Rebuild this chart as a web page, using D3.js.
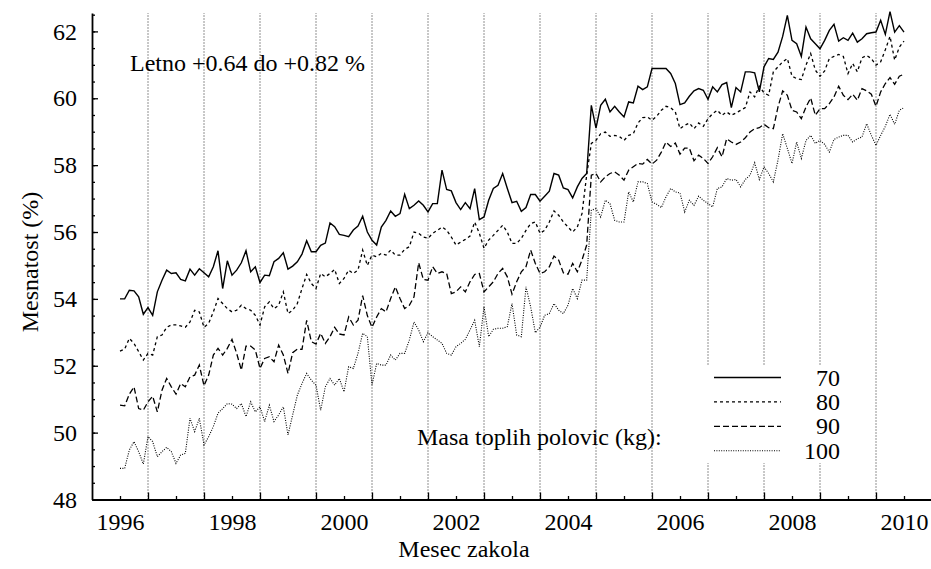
<!DOCTYPE html>
<html lang="sl">
<head>
  <meta charset="UTF-8">
  <title>Mesnatost</title>
  <style>
    body { margin: 0; background: #ffffff }
    #thesvg { width: 931px; height: 569px; display: block }
    text { font-family: "Liberation Serif", "DejaVu Serif", serif; fill: #000 }
  </style>
</head>
<body>
  <script src="https://cdnjs.cloudflare.com/ajax/libs/d3/7.8.5/d3.min.js"></script>
  <svg id="thesvg"></svg>
  <script>

    // monthly values, jan 1996 .. jan 2010
    var startYear = 1996;

    var s70 = [
      54.0, 54.0, 54.26, 54.24, 54.06, 53.54, 53.74, 53.51, 54.21, 54.56,
      54.86, 54.76, 54.78, 54.58, 54.54, 54.89, 54.71, 54.9, 54.78, 54.66,
      54.96, 55.44, 54.31, 55.14, 54.71, 54.86, 55.08, 55.44, 54.81, 54.96,
      54.49, 54.71, 54.69, 55.11, 55.21, 55.38, 54.89, 54.98, 55.11, 55.34,
      55.74, 55.41, 55.41, 55.6, 55.67, 56.27, 56.16, 55.93, 55.9, 55.86,
      56.06, 56.18, 56.47, 56.0, 55.75, 55.61, 56.15, 56.35, 56.63, 56.47,
      56.55, 57.13, 56.70, 56.80, 56.93, 56.80, 56.60, 56.85, 56.85, 57.85,
      57.27, 57.23, 56.88, 56.67, 56.88, 56.70, 57.30, 56.37, 56.45, 56.95,
      57.30, 57.40, 57.75, 57.30, 56.88, 56.92, 56.62, 56.73, 57.12, 57.12,
      56.92, 57.07, 57.22, 57.75, 57.70, 57.32, 57.27, 57.02, 57.35, 57.60,
      57.75, 59.79, 59.11, 59.79, 59.97, 59.59, 59.76, 59.59, 59.44, 59.89,
      59.86, 60.36, 60.26, 60.34, 60.89, 60.89, 60.89, 60.89, 60.74, 60.44,
      59.81, 59.86, 60.06, 60.22, 60.29, 60.24, 59.97, 60.34, 60.19, 60.41,
      60.47, 59.72, 60.32, 60.19, 60.79, 60.79, 60.76, 60.19, 60.94, 61.19,
      61.16, 61.38, 61.85, 62.48, 61.73, 61.63, 61.25, 62.13, 61.78, 61.63,
      61.48, 61.73, 62.03, 62.21, 61.71, 61.81, 61.73, 61.95, 61.68, 61.78,
      61.93, 61.96, 61.98, 62.33, 61.91, 62.59, 61.98, 62.17, 61.98
    ];

    var s80 = [
      52.44, 52.5, 52.82, 52.67, 52.42, 52.17, 52.37, 52.32, 52.87, 52.92,
      53.15, 53.22, 53.22, 53.19, 53.15, 53.31, 53.66, 53.61, 53.15, 53.27,
      53.61, 54.01, 53.86, 53.71, 53.61, 53.66, 53.81, 53.71, 53.66, 53.51,
      53.22, 53.76, 53.91, 53.71, 53.81, 54.21, 53.56, 53.66, 53.86, 54.31,
      54.73, 54.46, 54.31, 54.76, 54.66, 54.76, 54.88, 54.46, 54.61, 54.86,
      54.76, 54.86, 55.46, 55.0, 55.31, 55.26, 55.36, 55.31, 55.46, 55.31,
      55.31, 55.48, 55.56, 56.0, 55.96, 55.85, 55.81, 55.96, 56.05, 56.15,
      56.05, 55.85, 55.61, 55.70, 55.78, 55.88, 56.30, 55.96, 55.51, 55.76,
      55.90, 56.05, 56.20, 56.0, 55.66, 55.66, 55.81, 56.05, 56.25, 56.30,
      55.96, 56.05, 56.30, 56.63, 56.50, 56.30, 56.15, 56.0, 56.15, 56.55,
      57.70, 58.65, 58.74, 58.94, 58.99, 58.86, 58.89, 58.86, 58.74, 58.89,
      58.94, 59.26, 59.42, 59.44, 59.34, 59.46, 59.64, 59.76, 59.72, 59.59,
      59.09, 59.19, 59.26, 59.09, 59.26, 59.16, 59.39, 59.54, 59.64, 59.49,
      59.59, 59.49, 59.56, 59.64, 59.72, 60.19, 60.04, 60.36, 60.16, 60.09,
      60.79, 60.94, 61.09, 61.19, 60.66, 60.59, 60.56, 60.99, 61.34, 60.84,
      60.66, 60.82, 61.19, 61.25, 61.31, 61.25, 60.74, 61.04, 60.79, 61.21,
      61.28, 61.19, 60.99, 61.09, 61.45, 61.85, 61.14, 61.53, 61.71
    ];

    var s90 = [
      50.82, 50.80, 51.15, 51.37, 50.72, 50.67, 50.92, 51.09, 50.62, 51.27,
      51.62, 51.37, 51.15, 51.47, 51.37, 51.67, 51.72, 52.02, 51.40, 51.72,
      52.32, 52.52, 52.32, 52.52, 52.79, 52.37, 51.87, 52.59, 52.59, 52.47,
      51.92, 52.22, 52.27, 52.12, 52.62, 52.32, 51.77, 52.39, 52.50, 52.49,
      53.36, 52.72, 52.65, 52.97, 52.67, 52.87, 53.15, 52.95, 52.92, 53.46,
      53.22, 53.36, 54.1, 53.5, 53.15, 53.46, 53.71, 53.61, 54.01, 54.36,
      54.01, 53.71, 53.81, 54.06, 55.08, 54.58, 54.56, 54.96, 54.76, 54.81,
      54.76, 54.16, 54.21, 54.36, 54.21, 54.51, 54.73, 54.76, 54.21, 54.36,
      54.51, 54.76, 54.91, 54.66, 54.14, 54.51, 54.81, 54.96, 55.46, 55.06,
      54.76, 54.81, 54.96, 55.28, 55.16, 54.78, 54.74, 55.06, 54.81, 55.16,
      55.61, 57.70, 57.75, 57.50, 57.65, 57.75, 57.80, 57.70, 57.55, 57.85,
      57.95, 58.05, 58.03, 58.17, 58.03, 58.15, 58.39, 58.69, 58.56, 58.66,
      58.33, 58.51, 58.51, 58.13, 58.30, 58.20, 58.05, 58.25, 58.52, 58.25,
      58.79, 58.69, 58.62, 58.69, 58.82, 58.99, 59.09, 59.12, 59.22, 59.12,
      59.09, 59.74, 60.22, 60.09, 59.64, 59.59, 59.39, 59.74, 60.01, 59.49,
      59.69, 59.69, 59.84, 60.04, 60.36, 60.09, 59.96, 60.12, 59.94, 60.29,
      60.22, 60.12, 59.76, 60.19, 60.44, 60.62, 60.42, 60.66, 60.72
    ];

    var s100 = [
      48.93, 48.93, 49.48, 49.73, 49.43, 49.06, 49.88, 49.73, 49.28, 49.43,
      49.56, 49.43, 49.08, 49.33, 49.38, 50.43, 50.03, 50.43, 49.63, 49.88,
      50.18, 50.58, 50.72, 50.87, 50.85, 50.72, 50.87, 50.48, 50.92, 50.62,
      50.77, 50.33, 50.82, 50.33, 50.53, 50.77, 49.93, 50.53, 51.12, 51.47,
      51.77, 51.57, 51.42, 50.67, 51.37, 51.62, 51.42, 51.62, 51.22, 51.97,
      51.92, 52.37, 52.97, 52.87, 51.42, 52.07, 52.02, 52.02, 52.32, 52.17,
      52.37, 52.37, 52.77, 53.31, 53.07, 52.72, 52.99, 52.87, 52.77, 52.67,
      52.37, 52.32, 52.57, 52.67, 52.79, 53.07, 53.36, 52.57, 53.76, 52.87,
      53.09, 53.12, 53.12, 53.17, 53.86, 52.92, 52.87, 54.36, 53.76, 52.99,
      53.15, 53.51, 53.56, 53.86, 53.66, 53.56, 53.81, 54.31, 54.01, 54.56,
      54.56, 56.65, 56.70, 56.45, 56.95, 56.85, 56.35, 56.30, 56.30, 57.20,
      56.90, 57.5, 57.50, 57.45, 56.90, 56.83, 56.73, 57.05, 57.30, 57.20,
      57.17, 56.60, 56.95, 56.80, 57.07, 56.95, 56.85, 56.75, 57.30, 57.35,
      57.60, 57.55, 57.57, 57.35, 57.57, 57.70, 58.07, 57.57, 57.95, 57.75,
      57.50, 58.15, 58.94, 58.50, 58.05, 58.69, 58.20, 58.74, 58.89, 58.65,
      58.74, 58.62, 58.39, 58.77, 58.84, 58.89, 58.89, 58.69, 58.79, 58.84,
      59.24, 58.89, 58.59, 58.89, 59.16, 59.52, 59.22, 59.64, 59.72
    ];

    var seriesNames = ["70", "80", "90", "100"];
    var yearLabels = [1996, 1998, 2000, 2002, 2004, 2006, 2008, 2010];
    var yTickLabels = [48, 50, 52, 54, 56, 58, 60, 62];

    var dashes = ["none", "3,3", "6,3", "1,1.4"];
    var widths = [1.4, 1.3, 1.3, 1.1];

    var svg = d3.select("svg");
    var font = '"Liberation Serif", "DejaVu Serif", serif';

    // plot box (careful: "top" is taken by window.top)
    var pLeft = 92, pRight = 932, pTop = 13, pBottom = 499.5;

    var x = d3.scaleLinear().domain([1995.5, 2010.5]).range([pLeft, pRight]);
    var y = d3.scaleLinear().domain([48, 62.55]).range([pBottom, pTop]);

    var series = [s70, s80, s90, s100].map(function(vals, k) {
      return {
        name: seriesNames[k],
        values: vals.map(function(v, i) { return { t: startYear + i / 12, v: v }; })
      };
    });

    // vertical dotted grid at mid-year
    var gridYears = d3.range(1996.5, 2010, 1);
    svg.append("g").selectAll("line")
      .data(gridYears)
      .enter().append("line")
      .attr("x1", d => x(d)).attr("x2", d => x(d))
      .attr("y1", pBottom).attr("y2", pTop)
      .attr("stroke", "#222")
      .attr("stroke-width", 1)
      .attr("stroke-dasharray", "1,2");

    var line = d3.line()
      .x(d => x(d.t))
      .y(d => y(d.v));

    svg.append("g").selectAll("path")
      .data(series)
      .enter().append("path")
      .attr("d", d => line(d.values))
      .attr("fill", "none")
      .attr("stroke", "#000")
      .attr("stroke-width", (d, i) => widths[i])
      .attr("stroke-dasharray", (d, i) => dashes[i])
      .attr("stroke-linejoin", "miter");

    // axes, ticks pointing inward
    var yMinor = svg.append("g")
      .attr("transform", "translate(" + pLeft + ",0)")
      .call(d3.axisLeft(y).tickValues(d3.range(48, 62.6, 0.5)).tickSize(-3).tickFormat(""));
    yMinor.select(".domain").remove();

    var yAxis = svg.append("g")
      .attr("transform", "translate(" + pLeft + ",0)")
      .call(d3.axisLeft(y).tickValues(yTickLabels).tickSize(-6).tickPadding(15).tickSizeOuter(0));

    var xMinor = svg.append("g")
      .attr("transform", "translate(0," + pBottom + ")")
      .call(d3.axisBottom(x).tickValues(d3.range(1996, 2011, 1)).tickSize(-3.5).tickPadding(13)
        .tickFormat(d => yearLabels.indexOf(d) >= 0 ? d : ""));
    xMinor.select(".domain").remove();

    var xAxis = svg.append("g")
      .attr("transform", "translate(0," + pBottom + ")")
      .call(d3.axisBottom(x).tickValues(gridYears).tickSize(-7).tickFormat("").tickSizeOuter(0));

    svg.selectAll(".tick line").attr("stroke", "#000").attr("stroke-width", 1.3);
    svg.selectAll(".domain").attr("stroke", "#000").attr("stroke-width", 1.8);
    svg.selectAll(".tick text")
      .attr("font-family", font)
      .attr("font-size", 24)
      .attr("fill", "#000");

    // axis titles
    svg.append("text")
      .attr("x", 464).attr("y", 557)
      .attr("text-anchor", "middle")
      .attr("font-size", 24)
      .text("Mesec zakola");

    svg.append("text")
      .attr("transform", "translate(38,262) rotate(-90)")
      .attr("text-anchor", "middle")
      .attr("font-size", 24)
      .text("Mesnatost (%)");

    svg.append("text")
      .attr("x", 130).attr("y", 71)
      .attr("font-size", 24)
      .text("Letno +0.64 do +0.82 %");

    // legend
    svg.append("rect")
      .attr("x", 704).attr("y", 365)
      .attr("width", 144).attr("height", 98)
      .attr("fill", "#fff");

    svg.append("text")
      .attr("x", 417).attr("y", 445)
      .attr("font-size", 24)
      .text("Masa toplih polovic (kg):");

    var legend = svg.append("g").selectAll("g")
      .data(series)
      .enter().append("g")
      .attr("transform", (d, i) => "translate(0," + (377.5 + i * 24.4) + ")");

    legend.append("line")
      .attr("x1", 714).attr("x2", 781)
      .attr("stroke", "#000")
      .attr("stroke-width", (d, i) => widths[i])
      .attr("stroke-dasharray", (d, i) => dashes[i]);

    legend.append("text")
      .attr("x", 840).attr("y", 8)
      .attr("text-anchor", "end")
      .attr("font-size", 24)
      .text(d => d.name);

  </script>
</body>
</html>
